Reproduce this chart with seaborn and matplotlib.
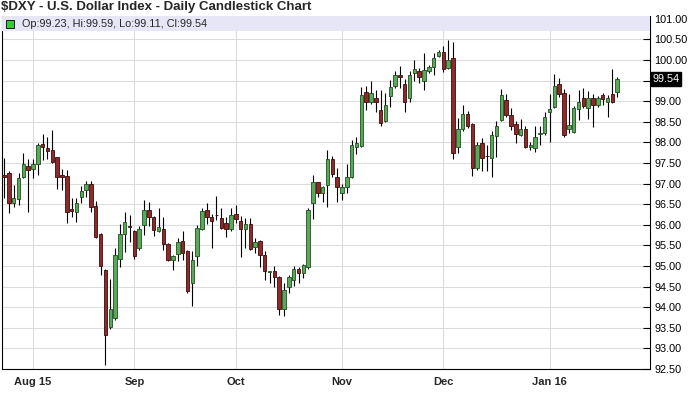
import numpy as np
import pandas as pd
import matplotlib
matplotlib.use("Agg")
import matplotlib.pyplot as plt
import matplotlib.transforms as mtransforms
from matplotlib.patches import Rectangle
import seaborn as sns

# Daily OHLC values for $DXY (Jul 24 2015 - Jan 22 2016)
opens = [97.20, 97.27, 96.54, 96.62, 97.16, 97.43, 97.35, 97.47, 97.96, 97.86,
         97.82, 97.64, 97.21, 97.18, 96.39, 96.32, 96.67, 96.85, 96.99, 96.46,
         95.78, 94.90, 93.51, 93.73, 95.16, 95.78, 95.98, 95.85, 95.43, 96.00,
         96.36, 96.18, 95.86, 95.89, 95.53, 95.15, 95.29, 95.61, 95.37, 94.60,
         95.24, 95.89, 96.36, 96.18, 96.25, 96.16, 96.04, 95.90, 96.26, 96.10,
         95.90, 96.02, 95.47, 95.60, 95.27, 94.86, 94.89, 94.74, 93.95, 94.50,
         94.65, 94.93, 94.83, 94.97, 96.52, 97.03, 96.77, 96.97, 97.59, 97.17,
         96.78, 96.91, 97.17, 97.88, 97.92, 99.23, 98.99, 99.07, 98.79, 98.53,
         99.13, 99.37, 99.64, 99.42, 99.07, 99.68, 99.74, 99.50, 99.74, 99.84,
         100.11, 100.19, 99.80, 100.05, 97.88, 98.32, 98.70, 98.45, 97.37, 97.98,
         97.68, 97.62, 98.16, 98.55, 99.03, 98.67, 98.45, 98.18, 98.32, 97.88,
         97.86, 98.20, 98.22, 98.73, 98.87, 99.42, 99.21, 98.32, 98.26, 98.81,
         99.07, 98.83, 99.07, 98.91, 99.15, 98.99, 99.18, 99.23]
highs = [97.62, 97.30, 96.97, 97.25, 97.75, 97.59, 97.59, 97.98, 98.21, 98.13,
         98.30, 97.64, 97.35, 97.34, 96.65, 96.65, 96.94, 97.07, 97.07, 96.59,
         95.80, 94.92, 94.68, 95.43, 96.02, 96.31, 96.24, 95.88, 95.96, 96.60,
         96.56, 96.22, 96.40, 96.18, 95.55, 95.26, 95.67, 95.85, 95.39, 95.37,
         96.00, 96.40, 96.54, 96.27, 96.70, 96.40, 96.20, 96.40, 96.48, 96.22,
         96.16, 96.16, 95.67, 95.62, 95.37, 94.89, 94.99, 94.76, 94.60, 94.78,
         95.00, 94.97, 95.05, 96.40, 97.21, 97.05, 96.94, 97.82, 97.66, 97.37,
         97.00, 97.48, 98.06, 98.13, 99.34, 99.36, 99.49, 99.28, 99.28, 99.20,
         99.52, 99.74, 99.86, 99.54, 99.74, 100.00, 99.80, 100.17, 99.88, 100.17,
         100.25, 100.33, 100.49, 100.45, 98.59, 98.91, 98.77, 98.47, 98.00, 98.10,
         97.94, 98.29, 98.53, 99.29, 99.18, 98.83, 98.53, 98.57, 98.40, 98.02,
         98.40, 98.40, 98.75, 99.18, 99.66, 99.56, 99.29, 99.18, 98.89, 99.28,
         99.32, 99.24, 99.18, 99.13, 99.19, 99.15, 99.78, 99.59]
lows = [96.65, 96.28, 96.44, 96.48, 97.13, 96.30, 97.13, 97.21, 97.58, 97.60,
        97.50, 96.86, 96.85, 96.05, 96.20, 96.08, 96.52, 96.67, 96.32, 95.67,
        94.78, 92.60, 93.46, 93.70, 94.97, 95.35, 95.59, 95.18, 95.39, 95.75,
        95.96, 95.73, 95.83, 95.39, 95.11, 94.90, 95.11, 95.15, 94.35, 94.03,
        95.00, 95.88, 96.02, 95.43, 96.12, 95.90, 95.71, 95.86, 96.04, 95.21,
        95.43, 95.40, 95.31, 94.97, 94.66, 94.60, 94.50, 93.81, 93.79, 94.35,
        94.52, 94.58, 94.70, 94.93, 96.14, 96.67, 96.56, 96.44, 97.17, 96.56,
        96.60, 96.77, 97.14, 97.72, 97.88, 98.79, 98.94, 98.75, 98.40, 98.50,
        98.86, 99.33, 99.31, 98.73, 98.97, 99.50, 99.45, 99.28, 99.68, 99.64,
        100.07, 99.72, 99.78, 97.59, 97.75, 98.28, 98.35, 97.19, 97.33, 97.30,
        97.30, 97.17, 97.64, 98.51, 98.62, 98.31, 97.98, 98.16, 97.86, 97.82,
        97.78, 97.94, 98.18, 98.02, 98.83, 99.10, 98.14, 98.24, 98.24, 98.55,
        98.83, 98.56, 98.37, 98.87, 98.91, 98.61, 98.95, 99.11]
closes = [97.17, 96.52, 96.65, 97.13, 97.48, 97.32, 97.48, 97.94, 97.88, 97.80,
          97.53, 97.17, 97.15, 96.32, 96.34, 96.52, 96.81, 96.99, 96.44, 95.71,
          95.00, 93.33, 93.95, 95.27, 95.78, 96.08, 95.94, 95.24, 95.89, 96.35,
          96.20, 95.88, 95.94, 95.54, 95.15, 95.24, 95.59, 95.31, 94.40, 95.15,
          95.92, 96.34, 96.20, 96.10, 96.23, 95.92, 95.90, 96.24, 96.14, 95.90,
          96.01, 95.41, 95.58, 95.27, 94.89, 94.88, 94.74, 93.95, 94.42, 94.73,
          94.92, 94.84, 95.03, 96.35, 97.03, 96.78, 96.91, 97.59, 97.24, 96.91,
          96.91, 97.16, 97.94, 97.98, 99.15, 98.99, 99.21, 98.97, 98.48, 98.91,
          99.34, 99.64, 99.58, 98.98, 99.64, 99.78, 99.58, 99.76, 99.83, 100.05,
          100.19, 99.78, 99.99, 97.74, 98.32, 98.69, 98.39, 97.37, 97.94, 97.62,
          97.66, 98.18, 98.39, 99.15, 98.67, 98.39, 98.21, 98.32, 97.88, 97.94,
          98.14, 98.24, 98.61, 98.81, 99.37, 99.18, 98.18, 98.43, 98.83, 98.97,
          98.89, 99.07, 98.91, 99.07, 99.05, 99.07, 98.99, 99.54]

# Trading days (market holidays removed)
holidays = ["2015-09-07", "2015-12-25", "2016-01-01"]
dates = pd.bdate_range("2015-07-24", "2016-01-22").drop(pd.to_datetime(holidays))
month_labels = ["Aug 15", "Sep", "Oct", "Nov", "Dec", "Jan 16"]

df = pd.DataFrame({"date": dates, "open": opens, "high": highs,
                   "low": lows, "close": closes})
df["pos"] = np.arange(len(df))
df["up"] = df["close"] >= df["open"]

# first trading day of each month -> x gridline / label position
first_days = df.groupby(df["date"].dt.to_period("M"))["pos"].min().values[1:]

sns.set_style("white")
plt.rcParams["font.family"] = ["Liberation Sans", "DejaVu Sans"]

fig = plt.figure(figsize=(6.91, 3.94), dpi=100)
ax = fig.add_axes([2 / 691, 1 - 369 / 394, 648 / 691, 353 / 394])

grid_c = "#dcdcdc"
yticks = np.arange(92.5, 101.01, 0.5)
for v in yticks:
    ax.axhline(v, color=grid_c, lw=0.8, zorder=0)
for p in first_days:
    ax.axvline(p, color=grid_c, lw=0.8, zorder=0)

# wicks
ax.vlines(df["pos"], df["low"], df["high"], color="black", lw=0.8, zorder=2)

up = df[df["up"]]
down = df[~df["up"]]
ax.bar(up["pos"], (up["close"] - up["open"]).clip(lower=0.02), bottom=up["open"],
       width=0.72, color="#5aa85a", edgecolor="#1f4f1f", linewidth=0.6, zorder=3)
ax.bar(down["pos"], (down["close"] - down["open"]).clip(upper=-0.02), bottom=down["open"],
       width=0.72, color="#8e2a2a", edgecolor="#3a0c0c", linewidth=0.6, zorder=3)

ax.set_xlim(-0.42, 133.8)
ax.set_ylim(92.5, 101.07)

last = df.iloc[-1]

# y axis on the right; the label under the last-price box is left blank
ax.yaxis.tick_right()
ax.set_yticks(yticks)
ax.set_yticklabels(["" if abs(v - last["close"]) < 0.1 else f"{v:.2f}" for v in yticks])
ax.tick_params(axis="y", direction="in", length=5, width=0.8, pad=3,
               labelsize=7.8, colors="black")
ax.set_xticks(first_days)
ax.set_xticklabels(month_labels, fontweight="bold", fontsize=8)
ax.tick_params(axis="x", length=0, pad=6)

for side in ["left", "right", "bottom"]:
    ax.spines[side].set_color("black")
    ax.spines[side].set_linewidth(0.8)
ax.spines["top"].set_visible(False)

blend = mtransforms.blended_transform_factory(ax.transAxes, ax.transData)

# legend band at the top of the plot
ax.add_patch(Rectangle((0, 100.71), 1, 0.36, transform=blend,
                       facecolor="#e6e6f7", edgecolor="none", zorder=4))
ax.add_patch(Rectangle((0.0065, 100.79), 0.012, 0.19, transform=blend,
                       facecolor="#33cc33", edgecolor="black", linewidth=0.6, zorder=5))
ax.text(0.031, 100.885,
        f"Op:{last['open']:.2f}, Hi:{last['high']:.2f}, Lo:{last['low']:.2f}, Cl:{last['close']:.2f}",
        transform=blend, fontsize=7.8, va="center", ha="left", zorder=6)

# last price marker on the right axis
ax.text(1.004, last["close"], f"{last['close']:.2f}", transform=blend,
        fontsize=7.8, color="white", va="center", ha="left", zorder=6,
        bbox=dict(facecolor="black", edgecolor="black", pad=1.2), clip_on=False)

fig.text(0.001, 0.981, "$DXY - U.S. Dollar Index - Daily Candlestick Chart",
         fontsize=9.5, fontweight="bold", va="center", ha="left")

fig.savefig("out.png", dpi=100, facecolor="white")
